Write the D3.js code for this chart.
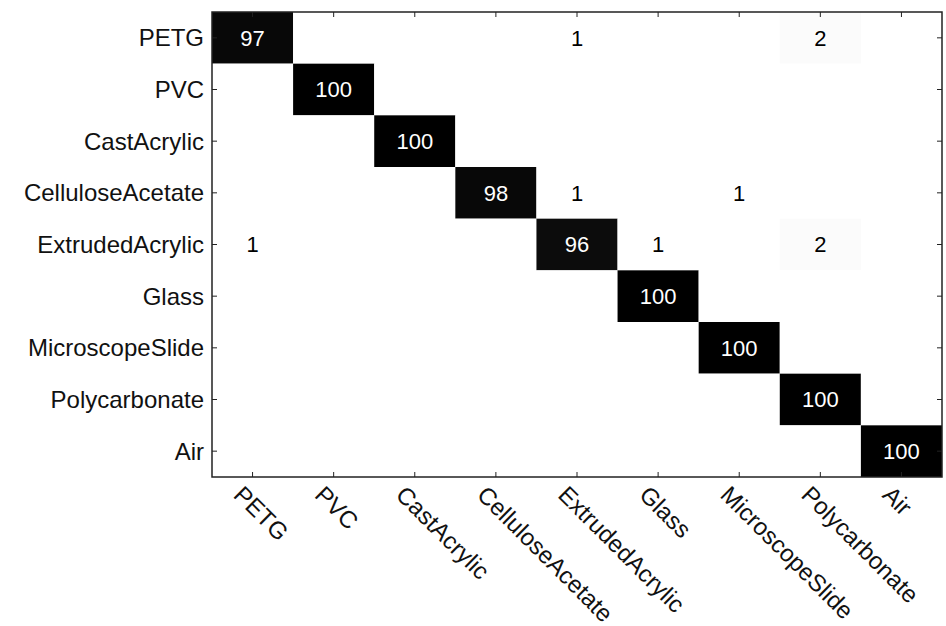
<!DOCTYPE html>
<html>
<head>
<meta charset="utf-8">
<script src="https://cdn.jsdelivr.net/npm/d3@7"></script>
<style>
  html, body { margin: 0; padding: 0; background: #fff; }
  svg { display: block; font-family: "Liberation Sans", Arial, sans-serif; }
</style>
</head>
<body>
<div id="chart"></div>
<script>
// Confusion matrix: rows = true class, columns = predicted class (percent)
const classes = ["PETG", "PVC", "CastAcrylic", "CelluloseAcetate", "ExtrudedAcrylic",
                 "Glass", "MicroscopeSlide", "Polycarbonate", "Air"];
const rowPETG            = [97, 0, 0, 0, 1, 0, 0, 2, 0];
const rowPVC             = [0, 100, 0, 0, 0, 0, 0, 0, 0];
const rowCastAcrylic     = [0, 0, 100, 0, 0, 0, 0, 0, 0];
const rowCelluloseAcetate= [0, 0, 0, 98, 1, 0, 1, 0, 0];
const rowExtrudedAcrylic = [1, 0, 0, 0, 96, 1, 0, 2, 0];
const rowGlass           = [0, 0, 0, 0, 0, 100, 0, 0, 0];
const rowMicroscopeSlide = [0, 0, 0, 0, 0, 0, 100, 0, 0];
const rowPolycarbonate   = [0, 0, 0, 0, 0, 0, 0, 100, 0];
const rowAir             = [0, 0, 0, 0, 0, 0, 0, 0, 100];
const matrix = [rowPETG, rowPVC, rowCastAcrylic, rowCelluloseAcetate, rowExtrudedAcrylic,
                rowGlass, rowMicroscopeSlide, rowPolycarbonate, rowAir];

const W = 946, H = 626;
const margin = { top: 12, right: 4, bottom: 149, left: 212 };
const w = W - margin.left - margin.right, h = H - margin.top - margin.bottom;

const svg = d3.select("#chart").append("svg").attr("width", W).attr("height", H);
const g = svg.append("g").attr("transform", `translate(${margin.left},${margin.top})`);

const x = d3.scaleBand().domain(classes).range([0, w]);
const y = d3.scaleBand().domain(classes).range([0, h]);

// MATLAB-like reversed gray colormap, 64 levels
const shade = v => {
  const lvl = Math.floor(v / 100 * 63) / 63;
  const c = Math.round(255 * (1 - lvl));
  return `rgb(${c},${c},${c})`;
};

const cells = [];
matrix.forEach((row, i) => row.forEach((v, j) => cells.push({ r: classes[i], c: classes[j], v })));

g.selectAll("rect.cell").data(cells).join("rect").attr("class", "cell")
  .attr("x", d => x(d.c)).attr("y", d => y(d.r))
  .attr("width", x.bandwidth()).attr("height", y.bandwidth())
  .attr("fill", d => shade(d.v));

g.selectAll("text.val").data(cells.filter(d => d.v > 0)).join("text").attr("class", "val")
  .attr("x", d => x(d.c) + x.bandwidth() / 2)
  .attr("y", d => y(d.r) + y.bandwidth() / 2)
  .attr("text-anchor", "middle").attr("dy", "0.36em")
  .attr("font-size", 22)
  .attr("fill", d => d.v > 50 ? "#fff" : "#000")
  .text(d => d.v);

// box
g.append("rect").attr("width", w).attr("height", h)
  .attr("fill", "none").attr("stroke", "#222").attr("stroke-width", 1.5);

const tk = 5;
const ticks = g.append("g").attr("stroke", "#222").attr("stroke-width", 1);
classes.forEach(c => {
  const cx = x(c) + x.bandwidth() / 2, cy = y(c) + y.bandwidth() / 2;
  ticks.append("line").attr("x1", cx).attr("x2", cx).attr("y1", h).attr("y2", h - tk);
  ticks.append("line").attr("x1", cx).attr("x2", cx).attr("y1", 0).attr("y2", tk);
  ticks.append("line").attr("x1", 0).attr("x2", tk).attr("y1", cy).attr("y2", cy);
  ticks.append("line").attr("x1", w).attr("x2", w - tk).attr("y1", cy).attr("y2", cy);
});

// y labels
g.selectAll("text.ylab").data(classes).join("text").attr("class", "ylab")
  .attr("x", -8).attr("y", d => y(d) + y.bandwidth() / 2)
  .attr("dy", "0.36em").attr("text-anchor", "end")
  .attr("font-size", 24).attr("fill", "#111")
  .text(d => d);

// x labels, rotated 45deg
g.selectAll("text.xlab").data(classes).join("text").attr("class", "xlab")
  .attr("transform", d => `translate(${x(d) + x.bandwidth() / 2 - 8},${h + 7}) rotate(45)`)
  .attr("dy", "0.72em").attr("text-anchor", "start")
  .attr("font-size", 24).attr("fill", "#111")
  .text(d => d);
</script>
</body>
</html>
